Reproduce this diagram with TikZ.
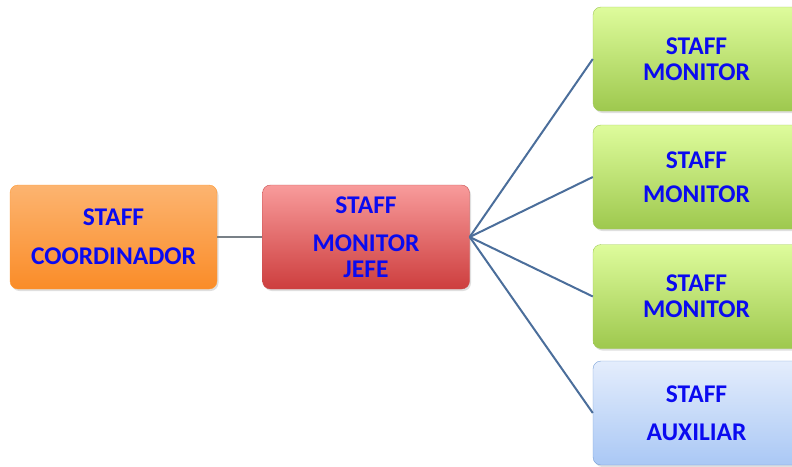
\documentclass[tikz,border=0pt]{standalone}
\usepackage{fontspec}
\setmainfont{Carlito}
\usetikzlibrary{shadows}
\definecolor{txtblue}{RGB}{10,10,240}
\definecolor{linkblue}{RGB}{75,110,155}
\definecolor{linkgray}{RGB}{120,128,135}
\tikzset{
  box/.style={rounded corners=8pt, minimum width=207pt, minimum height=104pt,
    inner sep=0pt, align=center, text=txtblue,
    font=\fontsize{25.5}{26}\selectfont\bfseries,
    drop shadow={opacity=0.25, shadow xshift=1.5pt, shadow yshift=-2pt}},
  orangebox/.style={box, draw=orange!80!white, top color={rgb,255:red,252;green,180;blue,112}, bottom color={rgb,255:red,250;green,140;blue,40}},
  redbox/.style={box, draw={rgb,255:red,200;green,80;blue,80}, top color={rgb,255:red,248;green,155;blue,155}, bottom color={rgb,255:red,205;green,62;blue,62}},
  greenbox/.style={box, draw={rgb,255:red,160;green,200;blue,90}, top color={rgb,255:red,222;green,252;blue,156}, bottom color={rgb,255:red,158;green,200;blue,78}},
  bluebox/.style={box, draw={rgb,255:red,120;green,160;blue,215}, top color={rgb,255:red,228;green,237;blue,252}, bottom color={rgb,255:red,170;green,200;blue,245}},
  link/.style={line width=2pt, draw=linkblue},
  glink/.style={line width=2.5pt, draw=linkgray}
}
\begin{document}
\begin{tikzpicture}[x=1pt,y=-1pt]
\useasboundingbox (0,0) rectangle (792,466);
\node[orangebox] (coord) at (113.5,237) {STAFF\\[13pt]COORDINADOR};
\node[redbox] (jefe) at (366,237) {STAFF\\[12pt]MONITOR\\JEFE};
\node[greenbox] (m1) at (696.5,59) {STAFF\\MONITOR};
\node[greenbox] (m2) at (696.5,177) {STAFF\\[8pt]MONITOR};
\node[greenbox] (m3) at (696.5,296.5) {STAFF\\MONITOR};
\node[bluebox] (aux) at (696.5,413) {STAFF\\[12pt]AUXILIAR};
\draw[glink] (coord.east) -- (jefe.west);
\foreach \n in {m1,m2,m3,aux}
  \draw[link] (jefe.east) -- (\n.west);
\end{tikzpicture}
\end{document}
